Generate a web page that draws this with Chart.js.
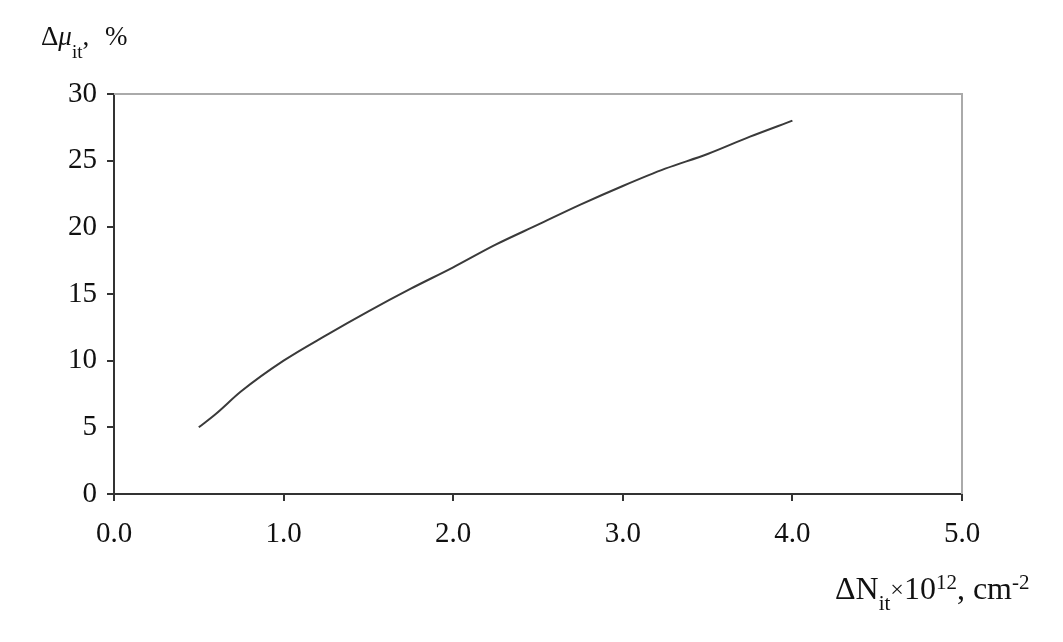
<!DOCTYPE html>
<html>
<head>
<meta charset="utf-8">
<script src="https://cdn.jsdelivr.net/npm/chart.js@4/dist/chart.umd.min.js"></script>
<style>
  html, body { margin: 0; padding: 0; background: #fff; }
  #wrap { width: 1063px; height: 642px; position: relative; }
</style>
</head>
<body>
<div id="wrap"><canvas id="chart"></canvas></div>
<script>
// values
const densityX = [0.5, 0.6, 0.75, 1.0, 1.25, 1.5, 1.75, 2.0, 2.25, 2.5, 2.75, 3.0, 3.25, 3.5, 3.75, 4.0];
const mobilityY = [5.0, 6.0, 7.7, 10.0, 11.9, 13.7, 15.4, 17.0, 18.7, 20.2, 21.7, 23.1, 24.4, 25.5, 26.8, 28.0];
const xTicks = [0, 1, 2, 3, 4, 5];
const yTicks = [0, 5, 10, 15, 20, 25, 30];

const serif = '"Liberation Serif", "DejaVu Serif", serif';

// draw text pieces one after another, each with its own font and baseline shift
function run(ctx, x, y, parts) {
    parts.forEach(p => {
        ctx.font = p.font;
        ctx.fillText(p.text, x, y + (p.dy || 0));
        x += ctx.measureText(p.text).width;
    });
}

// axis titles with sub/superscripts + grey top/right frame
const decorPlugin = {
    id: 'decor',
    afterDraw(chart) {
        const ctx = chart.ctx;
        const area = chart.chartArea;
        ctx.save();
        ctx.strokeStyle = '#aaaaaa';
        ctx.lineWidth = 2;
        ctx.beginPath();
        ctx.moveTo(area.left, area.top);
        ctx.lineTo(area.right, area.top);
        ctx.lineTo(area.right, area.bottom);
        ctx.stroke();

        ctx.fillStyle = '#111';
        ctx.textBaseline = 'alphabetic';
        ctx.textAlign = 'left';

        // y title: Δμit, %
        run(ctx, 41, 45, [
            { text: 'Δ', font: '27px ' + serif },
            { text: 'μ', font: 'italic 27px ' + serif },
            { text: 'it', font: '19px ' + serif, dy: 13 },
            { text: ',', font: '27px ' + serif }
        ]);
        ctx.font = '27px ' + serif;
        ctx.fillText('%', 105, 45);

        // x title: ΔNit×10^12, cm^-2
        const big = '32px ' + serif;
        const small = '21px ' + serif;
        run(ctx, 835, 599, [
            { text: 'ΔN', font: big },
            { text: 'it', font: small, dy: 11 },
            { text: '×', font: '24px ' + serif, dy: -2 },
            { text: '10', font: big },
            { text: '12', font: small, dy: -10 },
            { text: ', cm', font: big },
            { text: '-2', font: small, dy: -10 }
        ]);
        ctx.restore();
    }
};

const ctx = document.getElementById('chart').getContext('2d');
new Chart(ctx, {
    type: 'line',
    data: {
        datasets: [{
            data: densityX.map((v, i) => ({ x: v, y: mobilityY[i] })),
            borderColor: '#3a3a3a',
            borderWidth: 2,
            pointRadius: 0,
            cubicInterpolationMode: 'monotone',
            fill: false
        }]
    },
    options: {
        responsive: true,
        maintainAspectRatio: false,
        animation: false,
        layout: { padding: { left: 0, right: 101, top: 94, bottom: 0 } },
        plugins: { legend: { display: false }, tooltip: { enabled: false } },
        scales: {
            x: {
                type: 'linear',
                min: 0,
                max: 5,
                afterFit: (scale) => { scale.height = 148; },
                afterBuildTicks: (scale) => { scale.ticks = xTicks.map(v => ({ value: v })); },
                ticks: {
                    color: '#111',
                    font: { family: serif, size: 29 },
                    padding: 16,
                    maxRotation: 0,
                    callback: (v) => v.toFixed(1)
                },
                grid: { drawOnChartArea: false, tickLength: 7, color: '#333', lineWidth: 2 },
                border: { color: '#333', width: 2 }
            },
            y: {
                min: 0,
                max: 30,
                afterFit: (scale) => { scale.width = 114; },
                afterBuildTicks: (scale) => { scale.ticks = yTicks.map(v => ({ value: v })); },
                ticks: {
                    color: '#111',
                    font: { family: serif, size: 29 },
                    padding: 10
                },
                grid: { drawOnChartArea: false, tickLength: 7, color: '#333', lineWidth: 2 },
                border: { color: '#333', width: 2 }
            }
        }
    },
    plugins: [decorPlugin]
});
</script>
</body>
</html>
